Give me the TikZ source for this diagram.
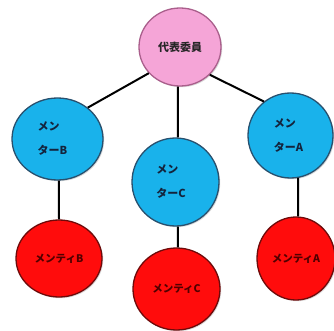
\documentclass[tikz,border=0pt]{standalone}
\usepackage{fontspec}
\newfontfamily\jp{Noto Sans CJK JP}
\usetikzlibrary{shapes.geometric,shadows}
\definecolor{pinkfill}{RGB}{245,165,215}
\definecolor{pinkdraw}{RGB}{170,95,140}
\definecolor{bluefill}{RGB}{25,178,235}
\definecolor{bluedraw}{RGB}{40,80,110}
\definecolor{redfill}{RGB}{255,12,12}
\definecolor{reddraw}{RGB}{110,10,10}
\definecolor{redtext}{RGB}{80,0,0}
\definecolor{bluetext}{RGB}{20,35,60}
\tikzset{
  bubble/.style={ellipse, inner sep=0pt, line width=1.3pt,
    drop shadow={shadow xshift=1.2pt, shadow yshift=-1.2pt, opacity=.3}},
  chair/.style={bubble, fill=pinkfill, draw=pinkdraw, text=black!85,
    font=\jp\bfseries\fontsize{11}{12}\selectfont},
  member/.style={bubble, fill=bluefill, draw=bluedraw, text=bluetext, align=left,
    font=\jp\bfseries\fontsize{11}{24}\selectfont},
  mentee/.style={bubble, fill=redfill, draw=reddraw, text=redtext,
    font=\jp\bfseries\fontsize{10.5}{12}\selectfont},
  link/.style={line width=2pt, black}
}
\begin{document}
\begin{tikzpicture}[x=1pt,y=-1pt]
\useasboundingbox (0,0) rectangle (334,331);
\node[chair, minimum width=82pt, minimum height=78pt] (top) at (180,47) {\raisebox{-3pt}{代表委員}};
\node[member, minimum width=91pt, minimum height=82pt] (B) at (57.5,139) {メン\\ターB\hspace*{10pt}};
\node[member, minimum width=87pt, minimum height=88pt] (C) at (175.5,182) {メン\\ターC\hspace*{9pt}};
\node[member, minimum width=85pt, minimum height=85pt] (A) at (290.5,135.5) {メン\\ターA\hspace*{4pt}};
\node[mentee, minimum width=86pt, minimum height=77pt] (mB) at (59,258.5) {メンティB};
\node[mentee, minimum width=87pt, minimum height=82pt] (mC) at (176.5,289) {メンティC};
\node[mentee, minimum width=78pt, minimum height=83pt] (mA) at (296,258.5) {メンティA};
\draw[link] (top.220) -- (B.46);
\draw[link] (top.267) -- (C.87);
\draw[link] (top.317) -- (A.128);
\draw[link] (B.-88) -- (mB.north);
\draw[link] (C.-87) -- (mC.88);
\draw[link] (A.-80) -- (mA.87);
\end{tikzpicture}
\end{document}
